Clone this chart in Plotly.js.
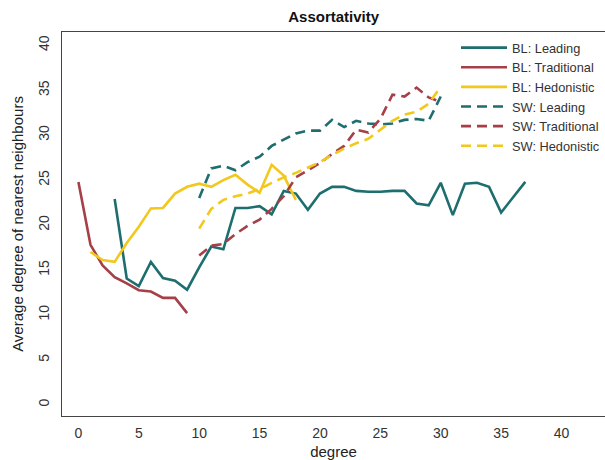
<!DOCTYPE html>
<html>
<head>
<meta charset="utf-8">
<script src="https://cdn.plot.ly/plotly-3.0.1.min.js"></script>
<style>html,body{margin:0;padding:0;background:#fff;}#chart{width:605px;height:460px;}</style>
</head>
<body>
<div id="chart"></div>
<script>
// BL: Leading
const blLeadingX = [3,4,5,6,7,8,9,10,11,12,13,14,15,16,17,18,19,20,21,22,23,24,25,26,27,28,29,30,31,32,33,34,35,37];
const blLeadingY = [22.9,14.05,13.2,15.9,14.1,13.8,12.8,15.3,17.6,17.3,21.9,21.9,22.1,21.2,23.8,23.5,21.7,23.5,24.25,24.25,23.8,23.7,23.7,23.8,23.8,22.4,22.2,24.7,21.1,24.6,24.7,24.25,21.4,24.8];
// BL: Traditional
const blTraditionalX = [0,1,2,3,4,5,6,7,8,9];
const blTraditionalY = [24.8,17.8,15.5,14.2,13.5,12.75,12.6,11.9,11.9,10.2];
// BL: Hedonistic
const blHedonisticX = [1,2,3,4,5,6,7,8,9,10,11,12,13,14,15,16,17,18];
const blHedonisticY = [17.0,16.1,15.9,18.0,19.8,21.85,21.9,23.5,24.25,24.6,24.25,25.0,25.6,24.5,23.6,26.7,25.5,22.8];
// SW: Leading
const swLeadingX = [10,11,12,13,14,15,16,17,18,19,20,21,22,23,24,25,26,27,28,29,30];
const swLeadingY = [23.0,26.3,26.6,26.1,27.0,27.6,28.8,29.5,30.2,30.5,30.5,31.7,30.9,31.6,31.3,31.2,31.3,31.7,31.8,31.6,34.3];
// SW: Traditional
const swTraditionalX = [10,11,12,13,14,15,16,17,18,19,20,21,22,23,24,25,26,27,28,29,30];
const swTraditionalY = [16.6,17.7,17.9,19.0,19.9,20.6,21.8,23.2,25.3,26.1,26.9,27.9,28.8,30.6,30.3,31.8,34.5,34.3,35.3,34.2,33.7];
// SW: Hedonistic
const swHedonisticX = [10,11,12,13,14,15,16,17,18,19,20,21,22,23,24,25,26,27,28,29,30];
const swHedonisticY = [19.6,21.8,22.8,23.2,23.5,24.0,24.7,25.3,25.8,26.4,27.0,27.8,28.5,29.1,29.6,30.6,31.6,32.3,32.6,33.5,35.4];

const xTicks = [0,5,10,15,20,25,30,35,40];
const yTicks = [0,5,10,15,20,25,30,35,40];

const teal = '#1e6d6f', red = '#a53f48', yellow = '#f2c81c';
const dash = '10px,6px';
function tr(name, x, y, color, d) {
  return {type:'scatter', mode:'lines', name:name, x:x, y:y,
    line:{color:color, width:2.6, dash:d||'solid'}};
}
const data = [
  tr('BL: Leading', blLeadingX, blLeadingY, teal),
  tr('BL: Traditional', blTraditionalX, blTraditionalY, red),
  tr('BL: Hedonistic', blHedonisticX, blHedonisticY, yellow),
  tr('SW: Leading', swLeadingX, swLeadingY, teal, dash),
  tr('SW: Traditional', swTraditionalX, swTraditionalY, red, dash),
  tr('SW: Hedonistic', swHedonisticX, swHedonisticY, yellow, dash)
];
const font = {family:'Liberation Sans, Arial, sans-serif', color:'#333', size:14};
const layout = {
  width:605, height:460,
  margin:{l:62, r:0, t:32, b:44, pad:0},
  paper_bgcolor:'#fff', plot_bgcolor:'#fff',
  font:font,
  title:{text:'<b>Assortativity</b>', font:{family:font.family, size:15, color:'#111'}, x:0.5515, xanchor:'center', y:0.963, yanchor:'middle'},
  showlegend:true,
  legend:{x:0.726, y:0.998, xanchor:'left', yanchor:'top', bgcolor:'rgba(0,0,0,0)', borderwidth:0,
    font:{family:font.family, size:12.8, color:'#333'}, itemwidth:46, tracegroupgap:0},
  xaxis:{range:[-1.36,43.6], tickvals:xTicks, ticktext:xTicks.map(String), showgrid:false, zeroline:false,
    showline:true, linecolor:'#444', linewidth:1.2, mirror:true, ticks:'', ticklabelstandoff:4,
    title:{text:'degree', font:{family:font.family, size:15, color:'#222'}, standoff:8}},
  yaxis:{range:[-1.25,41.48], tickvals:yTicks, ticktext:yTicks.map(String), showgrid:false, zeroline:false,
    showline:true, linecolor:'#444', linewidth:1.2, mirror:false, ticks:'', tickangle:-90, ticklabelstandoff:6,
    title:{text:'Average degree of nearest neighbours', font:{family:font.family, size:15, color:'#222'}, standoff:9}}
};
Plotly.newPlot('chart', data, layout, {displayModeBar:false, staticPlot:true});
</script>
</body>
</html>
